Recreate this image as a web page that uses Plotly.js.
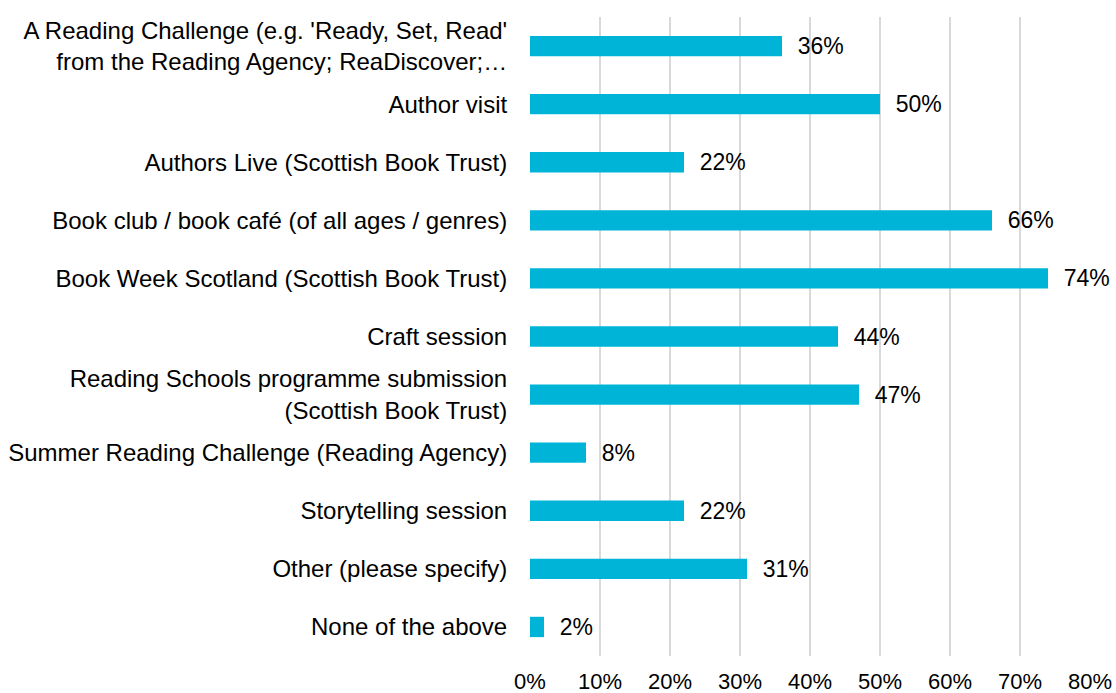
<!DOCTYPE html>
<html>
<head>
<meta charset="utf-8">
<script src="https://cdn.plot.ly/plotly-3.0.1.min.js"></script>
<style>html,body{margin:0;padding:0;background:#fff;}#chart{width:1116px;height:693px;}</style>
</head>
<body>
<div id="chart"></div>
<script>
const categories = [
  "A Reading Challenge (e.g. 'Ready, Set, Read'<br>from the Reading Agency; ReaDiscover;…",
  "Author visit",
  "Authors Live (Scottish Book Trust)",
  "Book club / book café (of all ages / genres)",
  "Book Week Scotland (Scottish Book Trust)",
  "Craft session",
  "Reading Schools programme submission<br>(Scottish Book Trust)",
  "Summer Reading Challenge (Reading Agency)",
  "Storytelling session",
  "Other (please specify)",
  "None of the above"
];
const values = [0.36, 0.50, 0.22, 0.66, 0.74, 0.44, 0.47, 0.08, 0.22, 0.31, 0.02];
const labels = values.map(v => '\u00A0\u00A0' + Math.round(v * 100) + '%');
const tickVals = [0, 0.1, 0.2, 0.3, 0.4, 0.5, 0.6, 0.7, 0.8];
const tickText = ['0%', '10%', '20%', '30%', '40%', '50%', '60%', '70%', '80%'];

const fam = 'Liberation Sans, Arial, sans-serif';

Plotly.newPlot('chart', [{
  type: 'bar',
  orientation: 'h',
  y: categories,
  x: values,
  text: labels,
  textposition: 'outside',
  cliponaxis: false,
  constraintext: 'none',
  textfont: {family: fam, size: 23, color: '#000'},
  marker: {color: '#00B4D8'},
  hoverinfo: 'none'
}], {
  width: 1116, height: 693,
  margin: {l: 530, r: 26, t: 17, b: 37},
  paper_bgcolor: '#fff', plot_bgcolor: '#fff',
  font: {family: fam, size: 22, color: '#000'},
  bargap: 0.65,
  showlegend: false,
  xaxis: {
    range: [0, 0.8],
    tickvals: tickVals,
    ticktext: tickText,
    showgrid: true,
    gridcolor: '#D9D9D9',
    gridwidth: 2,
    zeroline: false,
    showline: false,
    ticks: 'outside',
    ticklen: 6,
    tickcolor: 'rgba(0,0,0,0)',
    tickfont: {family: fam, size: 22, color: '#000'}
  },
  yaxis: {
    autorange: 'reversed',
    showgrid: false,
    zeroline: false,
    showline: false,
    ticks: 'outside',
    ticklen: 17,
    tickcolor: 'rgba(0,0,0,0)',
    tickfont: {family: fam, size: 24, color: '#000'}
  }
}, {displayModeBar: false, staticPlot: true});
</script>
</body>
</html>
